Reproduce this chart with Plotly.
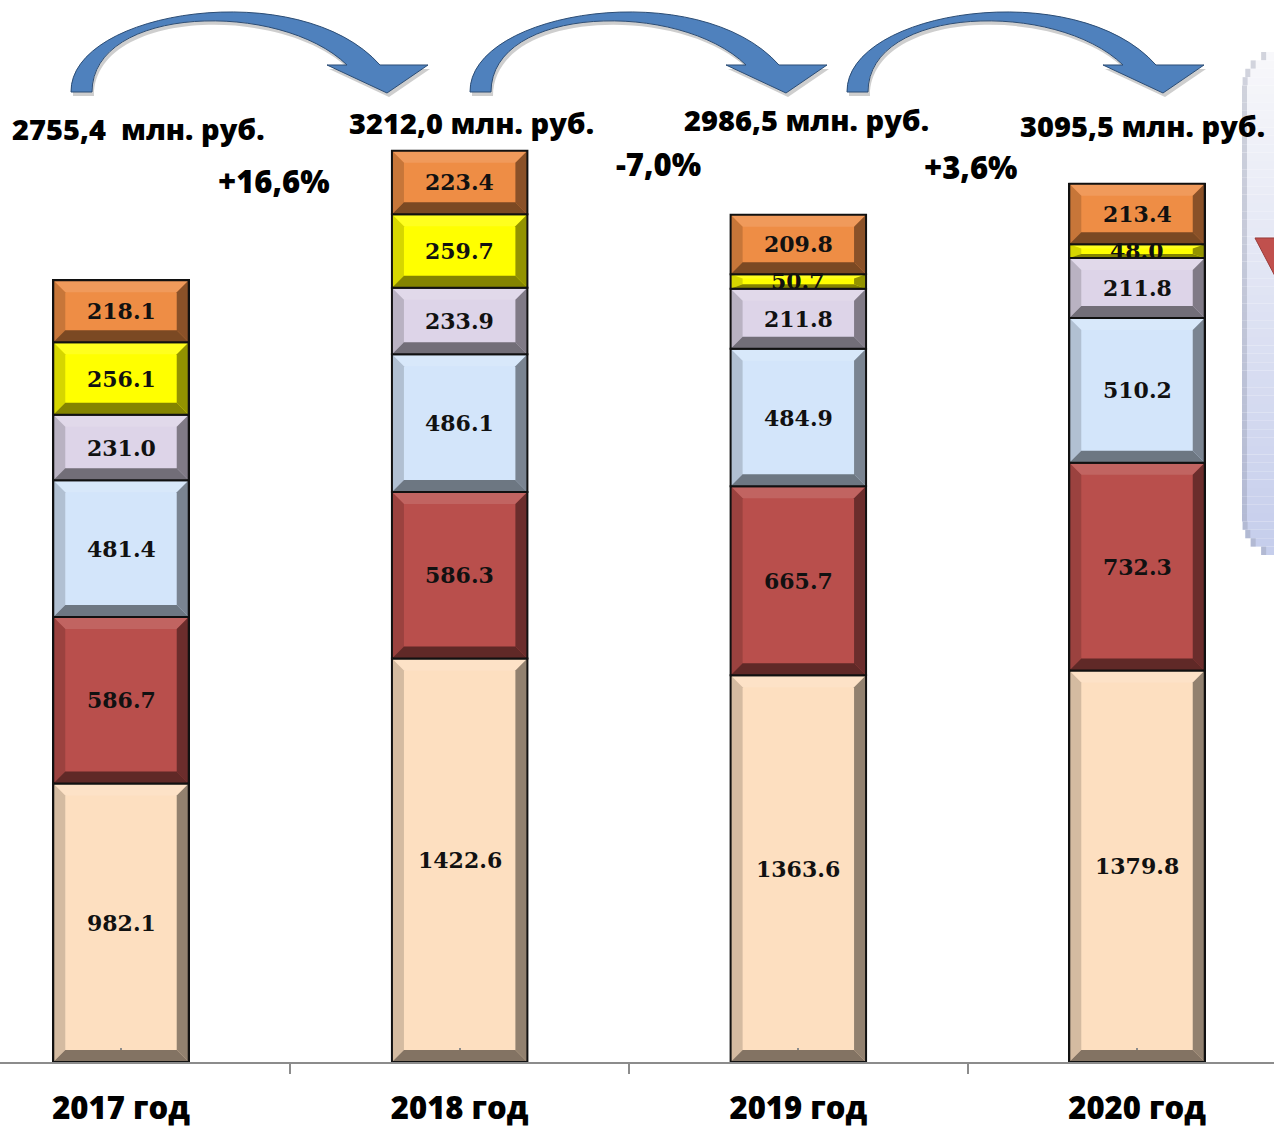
import plotly.graph_objects as go
import math

# ---------------- data ----------------
years = ["2017 год", "2018 год", "2019 год", "2020 год"]
s_peach = [982.1, 1422.6, 1363.6, 1379.8]
s_red = [586.7, 586.3, 665.7, 732.3]
s_blue = [481.4, 486.1, 484.9, 510.2]
s_lav = [231.0, 233.9, 211.8, 211.8]
s_yel = [256.1, 259.7, 50.7, 48.0]
s_orng = [218.1, 223.4, 209.8, 213.4]
totals = ["2755,4  млн. руб.", "3212,0 млн. руб.", "2986,5 млн. руб.", "3095,5 млн. руб."]
changes = ["+16,6%", "-7,0%", "+3,6%"]

series = [s_peach, s_red, s_blue, s_lav, s_yel, s_orng]
colors = ["#FDDFC0", "#B94F4C", "#D3E5FA", "#DDD4E8", "#FFFF00", "#EE8D45"]

SANS = "Open Sans"

# ---------------- geometry ----------------
W, H = 1274, 1128
BOT = 66
PH = H - BOT
PX_PER_CAT = 338.67
X0PX = 121.0
K = 0.2837  # px per unit
YMAX = PH / K
XR = [-X0PX / PX_PER_CAT, (W - X0PX) / PX_PER_CAT]
BW = 0.40


def hexrgb(h):
    h = h.lstrip("#")
    return tuple(int(h[i:i + 2], 16) for i in (0, 2, 4))


def shade(h, f):
    r, g, b = hexrgb(h)
    return "rgb(%d,%d,%d)" % (int(r * f), int(g * f), int(b * f))


def tint(h, f):
    r, g, b = hexrgb(h)
    return "rgb(%d,%d,%d)" % (int(r + (255 - r) * f), int(g + (255 - g) * f), int(b + (255 - b) * f))


fig = go.Figure()
xs = list(range(len(years)))
for s, c in zip(series, colors):
    fig.add_trace(go.Bar(x=xs, y=s, width=BW, marker=dict(color=c, line=dict(color="#111", width=2)),
                         hoverinfo="skip", showlegend=False))

shapes = []
annotations = []
D = 12 / PX_PER_CAT
for i in xs:
    base = 0.0
    for s, c in zip(series, colors):
        v = s[i]
        x0, x1 = i - BW / 2, i + BW / 2
        y0, y1 = base, base + v
        e = min(12 / K, 0.3 * v)
        xi0, xi1, yi0, yi1 = x0 + D, x1 - D, y0 + e, y1 - e
        polys = [
            ([(x0, y1), (x1, y1), (xi1, yi1), (xi0, yi1)], tint(c, 0.12)),
            ([(x0, y0), (x0, y1), (xi0, yi1), (xi0, yi0)], shade(c, 0.84)),
            ([(x1, y0), (x1, y1), (xi1, yi1), (xi1, yi0)], shade(c, 0.58)),
            ([(x0, y0), (x1, y0), (xi1, yi0), (xi0, yi0)], shade(c, 0.52)),
        ]
        for pts, col in polys:
            path = "M" + " L".join("%f,%f" % p for p in pts) + " Z"
            shapes.append(dict(type="path", xref="x", yref="y", path=path, fillcolor=col,
                               line=dict(width=0), layer="above"))
        shapes.append(dict(type="rect", xref="x", yref="y", x0=x0, x1=x1, y0=y0, y1=y1,
                           line=dict(color="#111", width=2), fillcolor="rgba(0,0,0,0)", layer="above"))
        annotations.append(dict(x=i, y=base + v / 2, xref="x", yref="y", text="<b>%.1f</b>" % v,
                                showarrow=False,
                                font=dict(family="DejaVu Serif", size=22, color="#111")))
        base += v


def px2p(px, py):
    return px / W, (PH - py) / PH


def path_from(cmds, dx=0, dy=0):
    out = []
    for cmd in cmds:
        op = cmd[0]
        nums = cmd[1:]
        pts = []
        for j in range(0, len(nums), 2):
            a, b = px2p(nums[j] + dx, nums[j + 1] + dy)
            pts.append("%f,%f" % (a, b))
        out.append(op + " ".join(pts))
    return " ".join(out) + " Z"


arrow = [
    ("M", 71, 92),
    ("C", 70, 10, 300, -25, 380, 65),
    ("L", 428, 65),
    ("L", 387, 93),
    ("L", 327, 65),
    ("L", 347, 65),
    ("C", 280, 0, 92, 5, 92, 92),
]
for dx in [0, 399, 776]:
    shapes.append(dict(type="path", xref="paper", yref="paper", path=path_from(arrow, dx + 2, 4),
                       fillcolor="rgba(60,60,60,0.25)", line=dict(width=0), layer="above"))
    shapes.append(dict(type="path", xref="paper", yref="paper", path=path_from(arrow, dx, 0),
                       fillcolor="#4F81BD", line=dict(color="#2C4D75", width=1), layer="above"))

# right rounded box (partially visible)
bx0, by0, by1, r = 1242, 52, 555, 36
n = 60
for j in range(n):
    ya = by0 + (by1 - by0) * j / n
    yb = by0 + (by1 - by0) * (j + 1) / n
    ym = (ya + yb) / 2
    if ym < by0 + r:
        dy = by0 + r - ym
        inset = r - math.sqrt(max(r * r - dy * dy, 0))
    elif ym > by1 - r:
        dy = ym - (by1 - r)
        inset = r - math.sqrt(max(r * r - dy * dy, 0))
    else:
        inset = 0
    t = j / (n - 1)
    c0, c1 = (248, 248, 251), (198, 206, 236)
    col = "rgb(%d,%d,%d)" % tuple(int(c0[q] + (c1[q] - c0[q]) * t) for q in range(3))
    xa, ya_p = px2p(bx0 + inset, ya)
    xb, yb_p = px2p(W + 5, yb)
    shapes.append(dict(type="rect", xref="paper", yref="paper", x0=xa, x1=xb, y0=yb_p, y1=ya_p,
                       fillcolor=col, line=dict(width=0), layer="above"))
    xe, _ = px2p(bx0 + inset + 5, ya)
    shapes.append(dict(type="rect", xref="paper", yref="paper", x0=xa, x1=xe, y0=yb_p, y1=ya_p,
                       fillcolor="rgba(140,145,165,0.35)", line=dict(width=0), layer="above"))

tri = [("M", 1255, 238), ("L", 1276, 238), ("L", 1276, 278)]
shapes.append(dict(type="path", xref="paper", yref="paper", path=path_from(tri),
                   fillcolor="#C0504D", line=dict(color="#9A3B39", width=1), layer="above"))

# totals and changes
tot_pos = [(10, 128), (347, 123), (682, 120), (1018, 125)]
for txt, (px, py) in zip(totals, tot_pos):
    xp, yp = px2p(px, py)
    annotations.append(dict(x=xp, y=yp, xref="paper", yref="paper", xanchor="left", yanchor="middle",
                            text=txt, showarrow=False,
                            font=dict(family=SANS, size=29, color="#000", weight=800)))
chg_pos = [(216, 181), (614, 164), (922, 167)]
for txt, (px, py) in zip(changes, chg_pos):
    xp, yp = px2p(px, py)
    annotations.append(dict(x=xp, y=yp, xref="paper", yref="paper", xanchor="left", yanchor="middle",
                            text=txt, showarrow=False,
                            font=dict(family=SANS, size=31, color="#000", weight=800)))

fig.update_layout(
    width=W, height=H, barmode="stack", bargap=0,
    margin=dict(l=0, r=0, t=0, b=BOT, pad=0),
    paper_bgcolor="white", plot_bgcolor="white",
    shapes=shapes, annotations=annotations, showlegend=False,
    xaxis=dict(range=XR, tickvals=xs, ticktext=years,
               tickfont=dict(family=SANS, size=31, color="#000", weight=800),
               showline=True, linecolor="#8C8C8C", linewidth=1.5, showgrid=False, zeroline=False,
               ticks="inside", ticklen=14, tickcolor="#8C8C8C", tickwidth=1.5,
               ticklabelstandoff=18,
               minor=dict(tickvals=[0.5, 1.5, 2.5], ticks="outside", ticklen=10,
                          tickcolor="#8C8C8C", tickwidth=1.5, showgrid=False)),
    yaxis=dict(range=[0, YMAX], visible=False, showgrid=False),
)

fig.write_html("out.html", config={"displayModeBar": False},
               post_script="document.body.style.margin='0';")
